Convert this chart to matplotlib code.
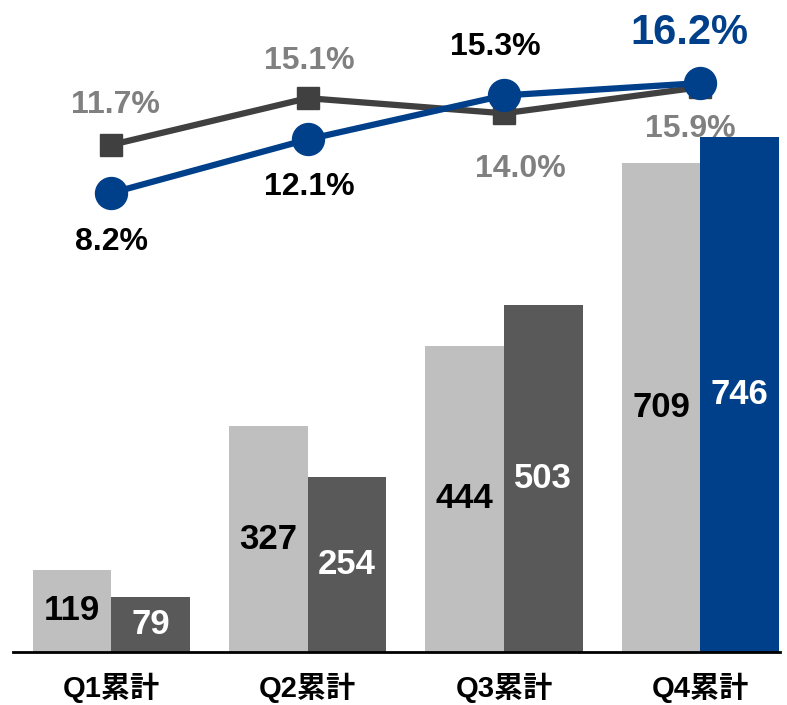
import matplotlib.pyplot as plt
import numpy as np

# data
quarters = ["Q1累計", "Q2累計", "Q3累計", "Q4累計"]
prev_sales = [119, 327, 444, 709]
curr_sales = [79, 254, 503, 746]
prev_rate = [11.7, 15.1, 14.0, 15.9]
curr_rate = [8.2, 12.1, 15.3, 16.2]
unit_label = "(億円)"

plt.rcParams['font.family'] = ['Liberation Sans', 'Noto Sans CJK JP', 'DejaVu Sans']
plt.rcParams['font.weight'] = 'bold'

LIGHT = '#bfbfbf'
DARK = '#595959'
BLUE = '#003f8a'
LINE_GRAY = '#404040'
LABEL_GRAY = '#808080'

fig = plt.figure(figsize=(7.87, 7.05), dpi=100)
ax = fig.add_axes([13 / 787, 53 / 705, 767 / 787, 652 / 705])

x = np.arange(len(quarters))
w = 0.4
bars_prev = ax.bar(x - w / 2, prev_sales, w, color=LIGHT, zorder=2)
bar_colors = [DARK, DARK, DARK, BLUE]
bars_curr = ax.bar(x + w / 2, curr_sales, w, color=bar_colors, zorder=2)

for b, v in zip(bars_prev, prev_sales):
    ax.text(b.get_x() + b.get_width() / 2, v / 2, str(v), ha='center', va='center',
            fontsize=25, fontweight='bold', color='black', zorder=3)
for b, v in zip(bars_curr, curr_sales):
    ax.text(b.get_x() + b.get_width() / 2, v / 2, str(v), ha='center', va='center',
            fontsize=25, fontweight='bold', color='white', zorder=3)

ax.set_xlim(-0.5, 3.405)
ax.set_ylim(0, 945)
for s in ['top', 'right', 'left']:
    ax.spines[s].set_visible(False)
ax.spines['bottom'].set_linewidth(2)
ax.set_yticks([])
ax.set_xticks(x)
ax.set_xticklabels(quarters, fontsize=21, fontweight='bold')
ax.tick_params(axis='x', length=0, pad=15)

# rate lines on a second axis
ax2 = ax.twinx()
ax2.set_ylim(-25.18, 22.24)
ax2.axis('off')
ax2.plot(x, prev_rate, color=LINE_GRAY, lw=4.5, marker='s', markersize=16, zorder=3)
ax2.plot(x, curr_rate, color=BLUE, lw=4.5, marker='o', markersize=23, zorder=4)

prev_offsets = [(3, 29), (1, 27), (12, -40), (-7, -30)]
for xi, v, off in zip(x, prev_rate, prev_offsets):
    ax2.annotate(f"{v:.1f}%", (xi, v), xytext=off, textcoords='offset points',
                 ha='center', va='center', fontsize=23, fontweight='bold', color=LABEL_GRAY)

curr_offsets = [(0, -35), (1, -34), (-6, 35), (-8, 36)]
curr_colors = ['black', 'black', 'black', BLUE]
curr_sizes = [23, 23, 23, 30]
for xi, v, off, c, fs in zip(x, curr_rate, curr_offsets, curr_colors, curr_sizes):
    ax2.annotate(f"{v:.1f}%", (xi, v), xytext=off, textcoords='offset points',
                 ha='center', va='center', fontsize=fs, fontweight='bold', color=c)

# unit label, almost entirely above the top edge as in the source image
fig.text(45 / 787, 1 + 1 / 705, unit_label, ha='left', va='bottom',
         fontsize=20, fontweight='bold', color='black')

fig.savefig('out.png', dpi=100)
